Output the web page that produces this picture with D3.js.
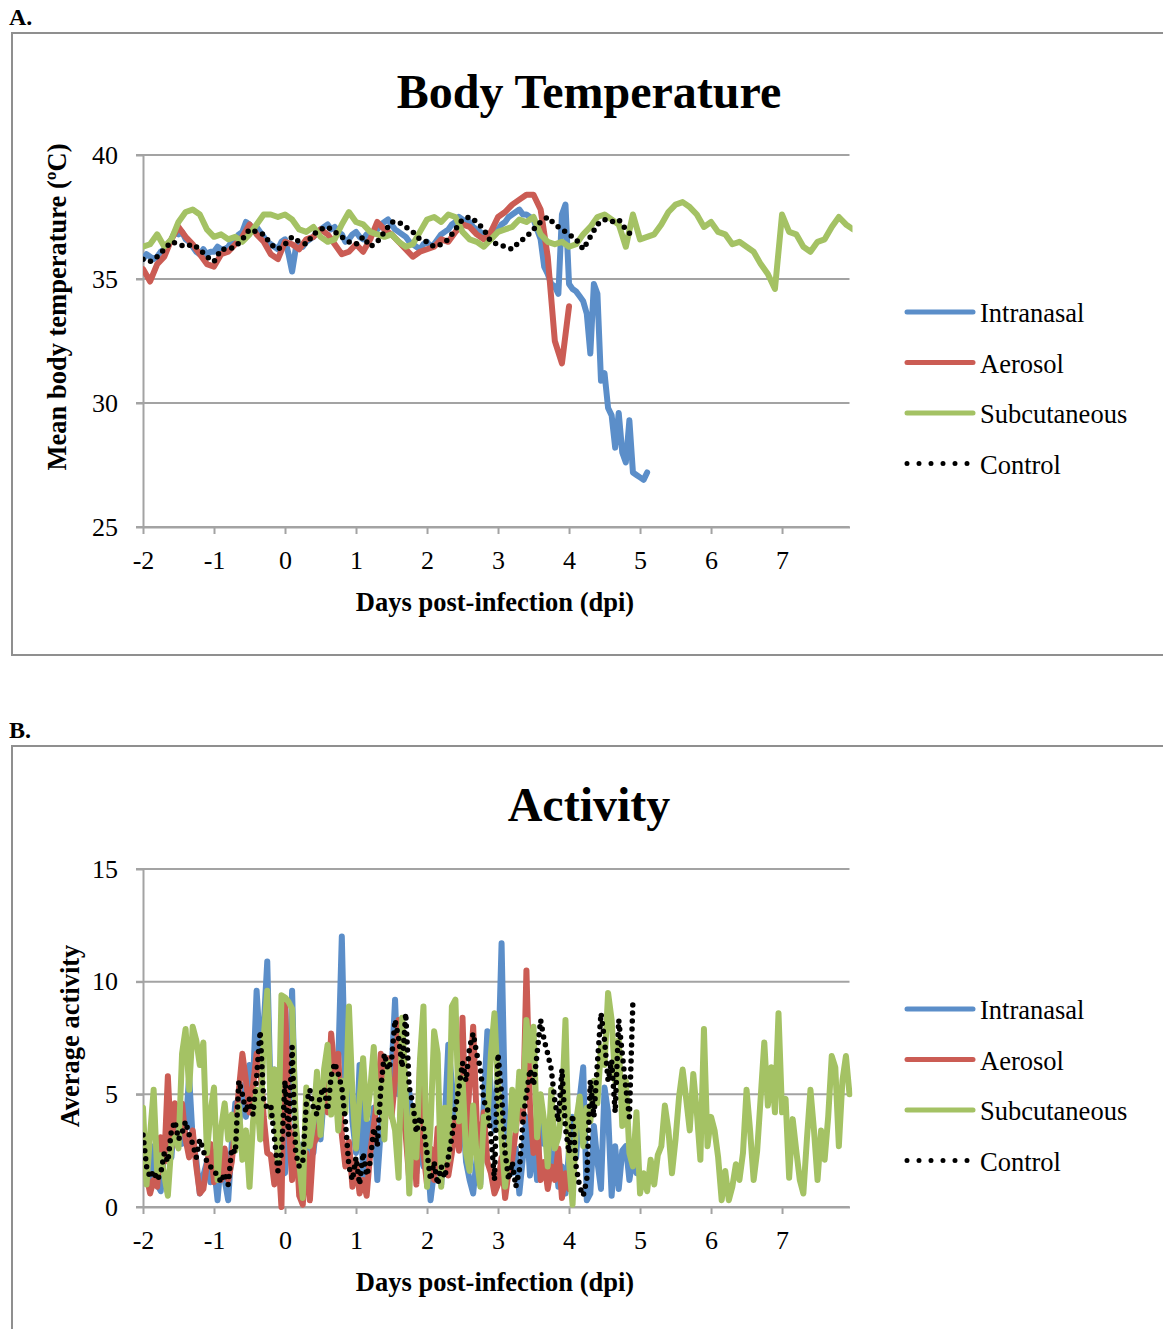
<!DOCTYPE html>
<html>
<head>
<meta charset="utf-8">
<script src="https://cdn.jsdelivr.net/npm/d3@7"></script>
<style>
  body { margin: 0; background: #fff; }
  text { font-family: "Liberation Serif", "Times New Roman", serif; fill: #000; }
</style>
</head>
<body>
<svg id="fig" width="1163" height="1329"></svg>
<script>
// ---------- Series names and colours ----------
const seriesNames = ["Intranasal", "Aerosol", "Subcutaneous", "Control"];
const seriesColors = ["#5b8ec9", "#cb5c54", "#a4c264", "#000000"];

// ---------- Body temperature (ºC), starting at -2 dpi ----------
// sampling interval (days) for each series, in the order of seriesNames
const tempSteps = [0.05, 0.1, 0.1, 0.1];
const tempIntranasal = [
  35.8,36.0,35.9,35.8,35.9,36.1,36.2,36.4,36.6,36.9,36.8,36.9,36.6,36.5,36.3,36.1,36.0,36.2,36.0,36.1,
  36.1,36.3,36.2,36.2,36.3,36.5,36.6,36.8,36.9,37.3,37.2,37.0,37.1,36.9,36.7,36.5,36.4,36.3,36.2,36.5,
  36.6,36.0,35.3,36.2,36.4,36.3,36.5,36.6,36.7,36.9,37.0,37.1,37.2,37.0,37.1,36.9,36.8,36.5,36.6,36.8,
  36.9,36.7,36.6,36.8,36.7,36.9,37.0,37.2,37.3,37.4,37.2,37.0,36.9,36.8,36.7,36.5,36.4,36.3,36.2,36.4,
  36.5,36.3,36.4,36.6,36.8,36.9,37.0,37.2,37.3,37.5,37.4,37.3,37.3,37.1,37.0,36.9,36.8,36.6,36.6,36.8,
  37.0,37.2,37.3,37.5,37.6,37.7,37.8,37.6,37.6,37.5,37.4,37.0,36.6,35.5,35.2,34.8,34.7,34.4,37.6,38.0,
  34.8,34.6,34.5,34.3,34.1,33.6,32.0,34.8,34.4,30.9,31.2,29.8,29.5,28.2,29.6,28.0,27.6,29.3,27.2,27.1,
  27.0,26.9,27.2
];
const tempAerosol = [
  35.4,34.9,35.6,35.9,36.6,37.1,36.7,36.4,36.0,35.6,
  35.5,36.0,36.1,36.4,36.7,37.2,36.8,36.5,36.0,35.8,
  36.5,36.4,36.2,36.6,36.7,37.0,36.8,36.4,36.0,36.1,
  36.4,36.1,36.6,37.3,37.0,36.8,36.5,36.2,35.9,36.1,
  36.2,36.3,36.6,36.5,36.9,37.2,37.1,36.8,36.6,36.9,
  37.5,37.7,38.0,38.2,38.4,38.4,37.8,35.9,32.5,31.6,
  33.9
];
const tempSubcutaneous = [
  36.3,36.4,36.8,36.3,36.6,37.3,37.7,37.8,37.6,37.0,
  36.7,36.8,36.6,36.7,36.5,36.8,37.2,37.6,37.6,37.5,
  37.6,37.4,37.0,36.9,37.1,36.7,36.5,36.6,37.2,37.7,
  37.3,37.2,36.9,36.8,36.7,36.8,36.5,36.3,36.4,36.9,
  37.4,37.5,37.3,37.6,37.5,36.9,36.6,36.5,36.3,36.6,
  36.9,37.0,37.1,37.4,37.3,37.5,36.8,36.5,36.4,36.5,
  36.3,36.4,36.8,37.1,37.5,37.6,37.4,37.2,36.3,37.6,
  36.6,36.7,36.8,37.2,37.7,38.0,38.1,37.9,37.6,37.1,
  37.3,36.9,36.8,36.4,36.5,36.3,36.1,35.6,35.2,34.6,
  37.6,36.9,36.8,36.3,36.1,36.5,36.6,37.1,37.5,37.2,
  37.0
];
const tempControl = [
  35.8,35.7,35.9,36.2,36.5,36.4,36.3,36.4,36.2,35.9,
  35.7,36.2,36.2,36.3,36.6,37.0,36.9,36.8,36.4,36.2,
  36.4,36.7,36.5,36.4,36.8,37.0,37.1,36.9,36.7,36.5,
  36.4,36.7,36.3,36.5,36.9,37.3,37.3,37.1,36.9,36.6,
  36.5,36.3,36.4,36.6,37.0,37.4,37.5,37.3,37.0,36.5,
  36.4,36.3,36.2,36.5,36.7,37.0,37.3,37.5,37.2,37.0,
  36.8,36.6,36.2,36.7,37.2,37.4,37.3,37.4,37.0,36.7
];

// ---------- Average activity, sampled every 0.05 day from -2 dpi ----------
const actSteps = [0.05, 0.05, 0.05, 0.05];
const actIntranasal = [
  1.8,2.4,1.2,2.7,1.0,0.7,2.5,3.0,2.2,4.3,3.6,2.8,3.5,5.8,3.0,2.1,0.6,1.4,2.0,1.1,
  1.8,0.3,2.2,1.2,0.3,2.8,4.6,3.5,5.4,4.0,6.3,5.5,9.6,7.0,8.0,10.9,4.6,6.1,2.0,3.6,
  1.5,4.2,9.6,3.4,1.2,2.8,1.0,3.6,2.4,4.0,3.0,5.0,6.8,4.5,5.6,6.4,12.0,5.2,7.2,3.8,
  2.4,6.3,1.2,3.8,2.6,4.4,1.2,3.5,5.6,4.2,6.0,9.2,5.0,7.2,3.4,5.1,2.6,1.5,3.0,1.8,
  2.5,0.3,1.6,2.4,1.0,3.8,7.2,5.5,3.8,6.0,4.4,2.0,1.2,0.6,2.2,1.0,4.6,7.8,5.0,3.4,
  6.0,11.7,4.0,2.8,1.5,2.6,0.6,2.2,4.0,1.4,3.0,1.2,4.5,2.8,3.5,1.6,2.4,0.9,1.8,0.6,
  2.5,4.0,2.2,4.8,6.2,0.3,0.6,3.6,2.0,0.8,5.3,4.2,0.5,2.7,0.8,2.5,2.7,1.2,2.2,1.5
];
const actAerosol = [
  2.0,1.4,0.6,1.2,0.9,3.1,2.0,5.8,2.6,4.6,3.8,4.6,3.0,2.2,3.4,1.8,0.6,0.8,1.9,2.8,
  1.1,2.4,1.2,2.6,1.2,2.0,3.6,5.2,6.8,5.6,4.2,5.4,6.8,6.3,4.0,2.4,2.3,1.0,2.6,0.0,
  9.2,3.8,1.2,3.5,0.5,0.1,2.4,0.3,2.8,3.1,4.0,5.4,4.2,7.7,6.0,6.8,3.2,1.8,2.9,0.9,
  2.0,0.6,1.2,0.5,2.4,3.6,4.8,6.8,5.5,6.6,4.0,5.6,8.3,4.5,3.2,1.2,3.6,1.0,6.2,2.4,
  1.0,2.6,1.2,3.5,2.0,2.8,1.4,2.4,3.9,2.5,8.4,3.1,5.5,8.0,3.8,2.6,4.2,2.0,1.5,0.6,
  1.0,2.2,0.4,1.6,2.1,3.4,5.0,3.8,10.5,4.5,2.4,3.7,1.2,2.0,0.8,1.8,1.2,2.6,0.4,1.5,
  0.8,1.6
];
const actSubcutaneous = [
  4.4,1.0,3.2,5.2,1.5,2.3,1.4,0.5,2.8,3.1,2.6,6.8,7.9,5.2,8.0,7.4,6.3,7.3,2.4,4.2,
  5.3,1.2,3.5,4.6,3.0,4.1,2.5,4.5,2.1,3.4,0.9,3.8,5.2,3.0,7.5,9.6,4.0,6.1,2.0,9.4,
  9.3,9.1,8.8,3.8,2.0,0.4,5.3,2.7,3.8,6.0,3.2,6.1,7.2,4.1,5.8,3.4,5.6,4.2,8.9,5.0,
  2.6,4.8,6.6,3.9,5.2,7.1,4.2,5.5,3.0,6.4,4.1,3.4,1.3,8.4,5.0,0.6,4.3,2.2,6.5,8.9,
  0.9,3.6,7.8,6.8,0.9,4.4,2.1,8.9,9.2,3.8,5.7,2.4,1.6,4.5,2.2,0.9,4.0,3.8,6.8,8.6,
  5.2,3.0,0.9,2.6,5.2,3.4,6.0,4.5,8.3,6.5,8.0,3.1,5.0,3.8,1.8,5.2,2.6,3.1,4.4,8.3,
  2.0,0.1,3.8,4.9,2.7,4.4,3.8,5.6,4.6,7.1,6.3,9.5,8.3,5.6,7.4,3.6,5.6,2.4,1.8,4.2,
  0.6,1.5,0.7,2.1,1.0,2.3,2.7,4.5,3.4,1.5,3.0,4.9,6.1,4.8,3.4,5.9,4.2,2.1,7.9,2.7,
  4.0,3.4,2.2,0.3,1.6,0.3,0.9,1.9,1.2,2.4,5.2,3.4,1.2,2.5,4.9,7.3,4.5,6.2,4.2,8.6,
  4.2,4.8,1.3,3.9,2.5,1.2,0.6,3.0,5.2,3.4,1.2,3.4,2.1,4.0,6.7,6.2,2.7,5.6,6.7,5.0
];
const actControl = [
  3.2,1.8,1.3,1.6,1.2,1.5,2.4,2.0,3.4,3.8,3.0,3.3,3.8,3.2,2.8,2.2,3.0,2.5,2.0,1.8,
  1.6,1.4,1.1,1.5,1.0,2.6,2.4,5.6,5.0,4.2,4.8,4.1,5.8,7.8,4.7,4.4,4.5,3.1,1.6,2.4,
  5.6,3.2,7.1,2.4,1.8,2.0,4.6,5.2,4.4,4.1,5.0,5.3,4.3,5.8,6.4,5.9,5.3,3.8,1.8,1.2,
  2.2,1.0,2.4,1.4,2.0,3.5,2.7,5.3,6.8,6.1,6.5,8.3,7.5,6.2,8.6,5.3,4.6,3.3,4.0,3.5,
  2.4,1.2,2.0,1.0,1.8,1.3,2.2,3.1,4.4,5.3,6.4,5.6,7.1,7.7,6.8,6.2,4.7,4.4,3.2,1.2,
  6.8,5.0,2.4,1.2,2.0,0.9,1.6,3.8,5.0,6.1,5.4,6.8,8.3,7.4,6.8,6.1,4.7,3.8,6.1,3.5,
  2.4,4.1,1.8,0.9,0.5,1.2,5.6,4.0,6.4,8.6,7.4,5.6,6.5,4.2,8.3,6.8,5.3,4.0,9.2
];

// ---------- Axis ticks ----------
const dayTicks = [-2, -1, 0, 1, 2, 3, 4, 5, 6, 7];
const tempTicks = [25, 30, 35, 40];
const actTicks = [0, 5, 10, 15];

// ---------- Drawing ----------
const svg = d3.select("#fig");
const gridColor = "#a3a3a3";
const frameColor = "#8f8f8f";
const serif = "Liberation Serif, Times New Roman, serif";

const x = d3.scaleLinear().domain([-2, 7.95]).range([143, 849.5]);

function toPoints(values, step) {
  return values.map((v, i) => ({ d: -2 + i * step, v }));
}

function drawPanel(cfg) {
  const g = svg.append("g");
  const y = d3.scaleLinear().domain(cfg.yDomain).range([cfg.bottom, cfg.top]);

  // outer frame of the chart area (extends past the right edge)
  g.append("rect")
    .attr("x", 12).attr("y", cfg.frameTop)
    .attr("width", 1200).attr("height", cfg.frameHeight)
    .attr("fill", "none").attr("stroke", frameColor).attr("stroke-width", 2);

  g.append("text").attr("x", 9).attr("y", cfg.frameTop - 8)
    .attr("font-size", 24).attr("font-weight", "bold").text(cfg.panelLabel);

  g.append("text").attr("x", 589).attr("y", cfg.titleY)
    .attr("text-anchor", "middle").attr("font-size", 48).attr("font-weight", "bold")
    .text(cfg.title);

  // horizontal gridlines
  g.append("g").selectAll("line").data(cfg.yTicks).join("line")
    .attr("x1", 136).attr("x2", 849.5)
    .attr("y1", d => y(d)).attr("y2", d => y(d))
    .attr("stroke", gridColor).attr("stroke-width", 2);

  // y axis
  const yAxis = g.append("g").attr("transform", "translate(143,0)")
    .call(d3.axisLeft(y).tickValues(cfg.yTicks).tickSize(7).tickSizeOuter(0).tickPadding(18));
  yAxis.select(".domain").attr("stroke", gridColor).attr("stroke-width", 2);
  yAxis.selectAll(".tick line").attr("stroke", gridColor).attr("stroke-width", 2);
  yAxis.selectAll(".tick text").attr("font-size", 26)
    .attr("font-family", serif).attr("fill", "#000");

  // x axis
  const xAxis = g.append("g").attr("transform", `translate(0,${cfg.bottom})`)
    .call(d3.axisBottom(x).tickValues(dayTicks).tickSize(7).tickSizeOuter(0).tickPadding(17)
      .tickFormat(d3.format("d")));
  xAxis.select(".domain").attr("stroke", gridColor).attr("stroke-width", 2);
  xAxis.selectAll(".tick line").attr("stroke", gridColor).attr("stroke-width", 2);
  xAxis.selectAll(".tick text").attr("font-size", 26)
    .attr("font-family", serif).attr("fill", "#000")
    .text(d => d < 0 ? "-" + Math.abs(d) : String(d));

  // axis titles
  g.append("text").attr("x", 495).attr("y", cfg.bottom + 84)
    .attr("text-anchor", "middle").attr("font-size", 26.5).attr("font-weight", "bold")
    .text("Days post-infection (dpi)");
  g.append("text")
    .attr("transform", `translate(${cfg.yTitleX},${cfg.yTitleY}) rotate(-90)`)
    .attr("text-anchor", "middle").attr("font-size", 26.5).attr("font-weight", "bold")
    .text(cfg.yTitle);

  // clip region for the series
  const clipId = "clip-" + cfg.panelLabel.replace(".", "");
  g.append("clipPath").attr("id", clipId).append("rect")
    .attr("x", 143).attr("y", cfg.top - 20).attr("width", 849.5 - 143 + 3).attr("height", cfg.bottom - cfg.top + 24);

  const line = d3.line().x(p => x(p.d)).y(p => y(p.v));
  const plot = g.append("g").attr("clip-path", `url(#${clipId})`);

  cfg.series.forEach((vals, i) => {
    const path = plot.append("path")
      .datum(toPoints(vals, cfg.steps[i]))
      .attr("d", line)
      .attr("fill", "none")
      .attr("stroke", seriesColors[i])
      .attr("stroke-linejoin", "round")
      .attr("stroke-linecap", "round");
    if (i === 3) {
      path.attr("stroke-width", 5.5).attr("stroke-dasharray", "0 8");
    } else {
      path.attr("stroke-width", 6);
    }
  });

  // legend
  const lg = g.append("g");
  seriesNames.forEach((name, i) => {
    const ly = cfg.legendY + i * 50.5;
    const l = lg.append("line").attr("x1", 907).attr("x2", 973)
      .attr("y1", ly).attr("y2", ly)
      .attr("stroke", seriesColors[i]).attr("stroke-linecap", "round");
    if (i === 3) l.attr("stroke-width", 5).attr("stroke-dasharray", "0 12").attr("x2", 968);
    else l.attr("stroke-width", 5);
    lg.append("text").attr("x", 980).attr("y", ly + 10).attr("font-size", 26.5).text(name);
  });
}

drawPanel({
  panelLabel: "A.", title: "Body Temperature",
  frameTop: 33, frameHeight: 622, titleY: 108,
  top: 155, bottom: 527, yDomain: [25, 40], yTicks: tempTicks,
  yTitle: "Mean body temperature (ºC)", yTitleX: 66, yTitleY: 307,
  steps: tempSteps,
  series: [tempIntranasal, tempAerosol, tempSubcutaneous, tempControl],
  legendY: 312
});

drawPanel({
  panelLabel: "B.", title: "Activity",
  frameTop: 746, frameHeight: 620, titleY: 821,
  top: 869, bottom: 1207, yDomain: [0, 15], yTicks: actTicks,
  yTitle: "Average activity", yTitleX: 79, yTitleY: 1036,
  steps: actSteps,
  series: [actIntranasal, actAerosol, actSubcutaneous, actControl],
  legendY: 1009
});
</script>
</body>
</html>
